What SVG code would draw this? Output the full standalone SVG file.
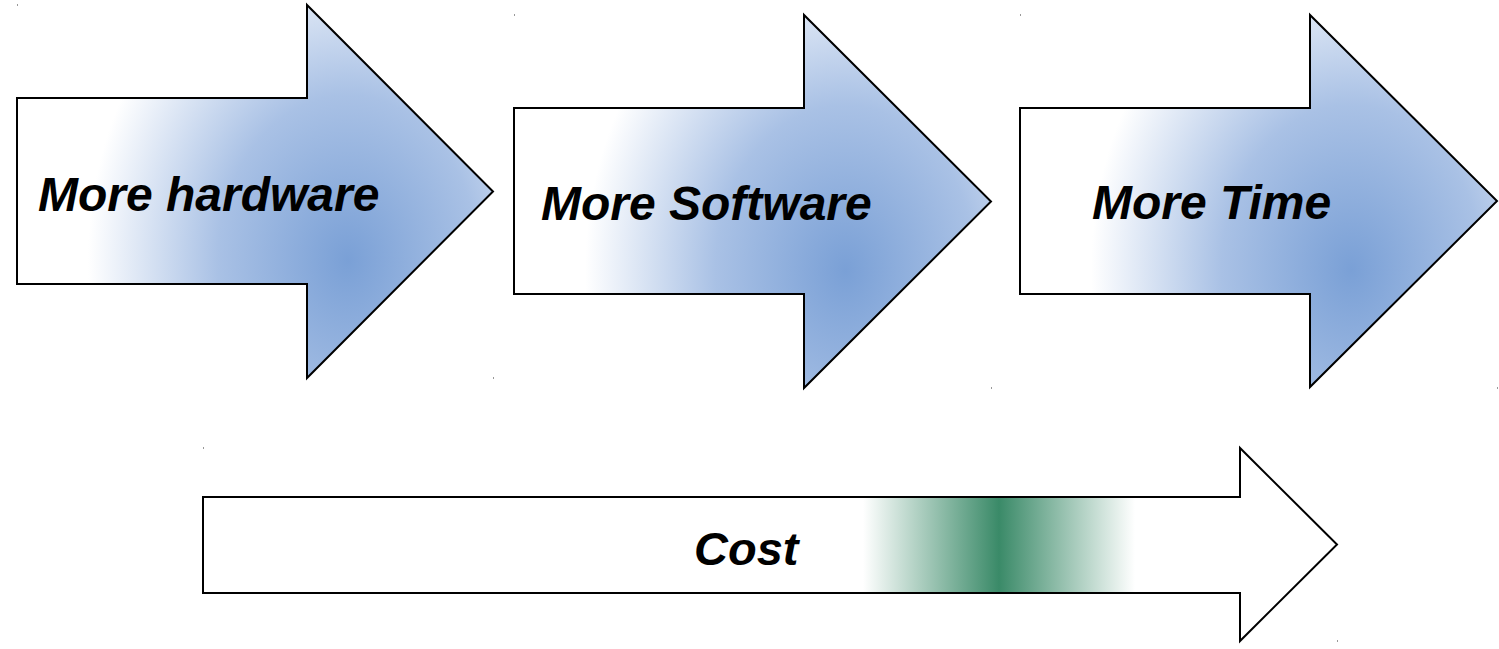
<svg xmlns="http://www.w3.org/2000/svg" width="1499" height="649" viewBox="0 0 1499 649">
  <defs>
    <radialGradient id="blueGrad" gradientUnits="objectBoundingBox" cx="0" cy="0" r="1" fx="0" fy="0" gradientTransform="translate(0.695 0.684) scale(0.546 0.885)">
      <stop offset="0" stop-color="#7aa0d6"/>
      <stop offset="0.5" stop-color="#a9c1e5"/>
      <stop offset="1" stop-color="#ffffff"/>
    </radialGradient>
    <linearGradient id="greenGrad" gradientUnits="userSpaceOnUse" x1="863" y1="0" x2="1135" y2="0">
      <stop offset="0" stop-color="#ffffff"/>
      <stop offset="0.5" stop-color="#3a8a68"/>
      <stop offset="1" stop-color="#ffffff"/>
    </linearGradient>
  </defs>
  <style>
    .arrow { stroke: #000000; stroke-width: 2; stroke-linejoin: miter; }
    .blue { fill: url(#blueGrad); }
    .cost { fill: url(#greenGrad); }
    .label { font-family: "Liberation Sans", Arial, sans-serif; font-weight: bold; font-style: italic; font-size: 48px; fill: #000000; }
    .mark { fill: #999999; }
  </style>
  <rect width="1499" height="649" fill="#ffffff"/>

  <g id="node-hardware">
    <polygon class="arrow blue" points="17,98 307,98 307,5 493,191.5 307,378 307,284 17,284"/>
    <text class="label" x="38" y="211">More hardware</text>
  </g>

  <g id="node-software">
    <polygon class="arrow blue" points="514,108 804,108 804,15 991,201.5 804,388 804,294 514,294"/>
    <text class="label" x="541" y="220">More Software</text>
  </g>

  <g id="node-time">
    <polygon class="arrow blue" points="1020,108 1310,108 1310,15 1497,201 1310,387 1310,294 1020,294"/>
    <text class="label" x="1092" y="219">More Time</text>
  </g>

  <g id="node-cost">
    <polygon class="arrow cost" points="203,497 1240,497 1240,448 1337,544.5 1240,641 1240,593 203,593"/>
    <text class="label" x="694" y="565" style="font-size:47px">Cost</text>
  </g>

  <g id="connectors"></g>

  <g id="marks">
    <rect class="mark" x="17" y="4" width="1" height="2"/>
    <rect class="mark" x="514" y="14" width="1" height="2"/>
    <rect class="mark" x="1020" y="14" width="1" height="2"/>
    <rect class="mark" x="493" y="377" width="1" height="2"/>
    <rect class="mark" x="991" y="387" width="1" height="2"/>
    <rect class="mark" x="1497" y="387" width="1" height="2"/>
    <rect class="mark" x="203" y="447" width="1" height="2"/>
    <rect class="mark" x="1337" y="640" width="1" height="2"/>
  </g>
</svg>
